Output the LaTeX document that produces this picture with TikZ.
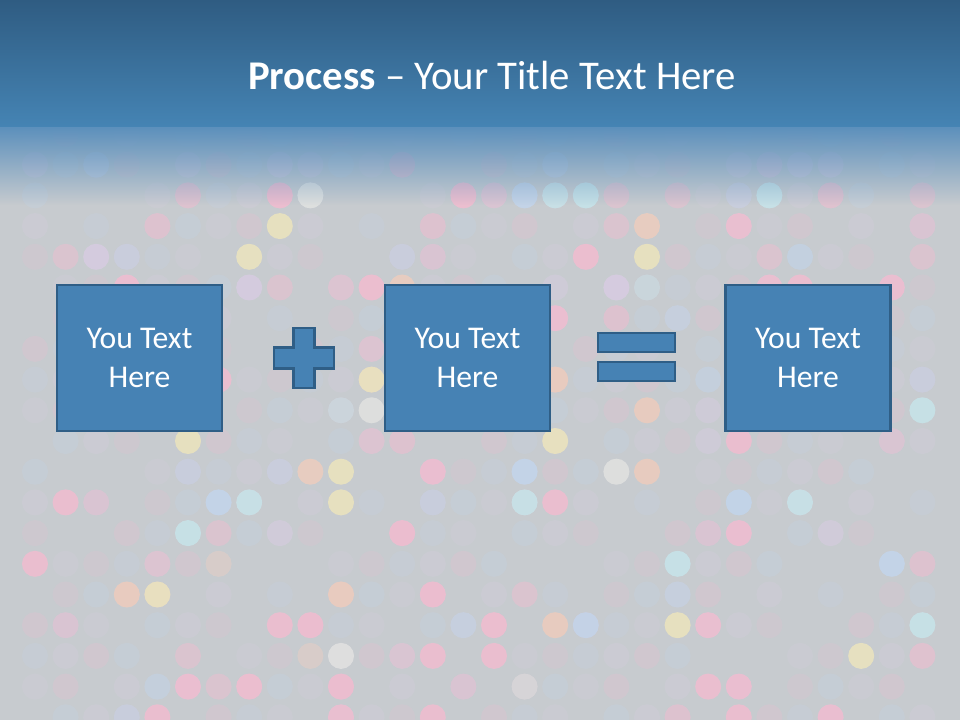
\documentclass[tikz,border=0pt]{standalone}
\usepackage{fontspec}
\setmainfont{Carlito}
\usetikzlibrary{fadings}
\definecolor{SlideGray}{HTML}{C7CBCF}
\definecolor{BandTop}{HTML}{2F5C82}
\definecolor{BandBot}{HTML}{4584B4}
\definecolor{BandFade}{HTML}{5C90BC}
\definecolor{BoxBlue}{HTML}{4682B4}
\definecolor{BoxLine}{HTML}{2F5E86}
\definecolor{Dotp}{HTML}{F2BCD0}
\definecolor{Dotb}{HTML}{C2D5EC}
\definecolor{Dotc}{HTML}{C6E5EA}
\definecolor{Doty}{HTML}{EEE5BC}
\definecolor{Doto}{HTML}{EFCCBC}
\definecolor{Dotw}{HTML}{E3E3E1}
\definecolor{Dotl}{HTML}{D8CBE2}
\tikzfading[name=bandfade, top color=transparent!0, bottom color=transparent!100]

\begin{document}
\begin{tikzpicture}[x=0.025cm,y=-0.025cm,
  dot/.style={radius=0.325cm},
  opbox/.style={draw=BoxLine, line width=1.8pt, fill=BoxBlue,
    minimum width=4.12cm, minimum height=3.65cm, align=center,
    text=white, font=\fontsize{22.5}{28}\selectfont},
  opsign/.style={draw=BoxLine, line width=1.8pt, fill=BoxBlue}]

  % slide background
  \fill[SlideGray] (0,0) rectangle (960,720);
  \useasboundingbox (0,0) rectangle (960,720);

  % faint dot grid
  \foreach \i in {0,...,19}{
    \foreach \j in {0,...,29}{
      \pgfmathtruncatemacro\k{mod(\i*7+\j*13+\i*\j*3,9)}
      \ifcase\k
        \fill[Dotl, opacity=0.2, dot] (35+30.6*\j,134+30.7*\i) circle;
      \or
        \fill[Dotp, opacity=0.16, dot] (35+30.6*\j,134+30.7*\i) circle;
      \or
        \fill[Dotb, opacity=0.18, dot] (35+30.6*\j,134+30.7*\i) circle;
      \or
        \fill[Dotl, opacity=0.26, dot] (35+30.6*\j,134+30.7*\i) circle;
      \or
        \fill[Dotp, opacity=0.22, dot] (35+30.6*\j,134+30.7*\i) circle;
      \or
        \fill[Dotb, opacity=0.24, dot] (35+30.6*\j,134+30.7*\i) circle;
      \else
      \fi
    }
  }

  % half-bright dots
  \foreach \j/\i/\c in {12/1/p,17/1/b,23/1/l,24/1/l,25/1/l,26/1/l,8/1/l,9/1/l,0/1/l,5/1/l,2/1/b,
      19/2/p,23/2/b,26/2/p,29/2/p,21/2/p,5/2/p,15/2/p,
      13/3/p,19/3/p,29/3/p,4/3/p,
      12/4/b,13/4/p,25/4/b,29/4/p,24/4/p,1/4/p,3/4/b,
      8/5/p,17/5/l,20/5/c,10/5/p,
      21/6/b,19/6/p,11/7/p,22/8/b,29/8/b,
      10/9/c,22/9/l,12/10/p,22/10/l,28/10/p,11/10/p,
      5/11/b,8/11/b,2/12/p,13/12/b,
      6/13/p,8/13/l,22/13/p,26/13/l,
      6/14/o,29/14/p,4/14/p,16/15/p,21/15/b,
      1/16/p,14/16/b,5/17/p,12/17/p,29/17/p,9/17/o,
      4/18/b,6/18/p,16/18/w,14/18/p,21/19/p,3/19/b}{
    \fill[Dot\c, opacity=0.45, dot] (35+30.6*\j,134+30.7*\i) circle;
  }

  % bright dots
  \foreach \j/\i/\c in {8/2/p,9/2/w,14/2/p,16/2/b,17/2/c,18/2/c,24/2/c,
      8/3/y,20/3/o,23/3/p,
      7/4/y,20/4/y,18/4/p,2/4/l,
      3/5/p,7/5/l,11/5/p,12/5/o,19/5/l,24/5/p,25/5/p,28/5/p,
      17/6/p,6/8/p,11/8/y,17/8/o,
      11/9/w,20/9/o,29/9/c,
      5/10/y,17/10/y,23/10/p,
      9/11/o,10/11/y,13/11/p,16/11/b,19/11/w,20/11/o,
      1/12/p,6/12/b,7/12/c,10/12/y,16/12/c,17/12/p,23/12/b,25/12/c,
      5/13/c,12/13/p,23/13/p,
      0/14/p,21/14/c,28/14/b,
      3/15/o,4/15/y,10/15/o,13/15/p,
      8/16/p,9/16/p,15/16/p,17/16/o,18/16/b,21/16/y,22/16/p,29/16/c,
      10/17/w,13/17/p,15/17/p,27/17/y,
      5/18/p,7/18/p,10/18/p,22/18/p,23/18/p,
      4/19/p,10/19/p,13/19/p,23/19/p,26/19/p}{
    \fill[Dot\c, opacity=0.82, dot] (35+30.6*\j,134+30.7*\i) circle;
  }

  % title band
  \shade[top color=BandTop, bottom color=BandBot] (0,0) rectangle (960,127);
  \fill[BandFade, path fading=bandfade] (0,127) rectangle (960,205);

  \node[text=white, font=\fontsize{29}{34}\selectfont] (title) at (492,75)
    {\textbf{Process} -- Your Title Text Here};

  % operands
  \node[opbox] (first) at (139.5,358) {You Text\\Here};
  \node[opbox] (second) at (467.5,358) {You Text\\Here};
  \node[opbox] (result) at (808,358) {You Text\\Here};

  % plus sign
  \draw[opsign] (293.5,328) -- (314.5,328) -- (314.5,347.5) -- (334,347.5)
    -- (334,368.5) -- (314.5,368.5) -- (314.5,388) -- (293.5,388)
    -- (293.5,368.5) -- (274,368.5) -- (274,347.5) -- (293.5,347.5) -- cycle;

  % equals sign
  \draw[opsign] (598,333) rectangle (675,352);
  \draw[opsign] (598,362) rectangle (675,381);

\end{tikzpicture}
\end{document}
